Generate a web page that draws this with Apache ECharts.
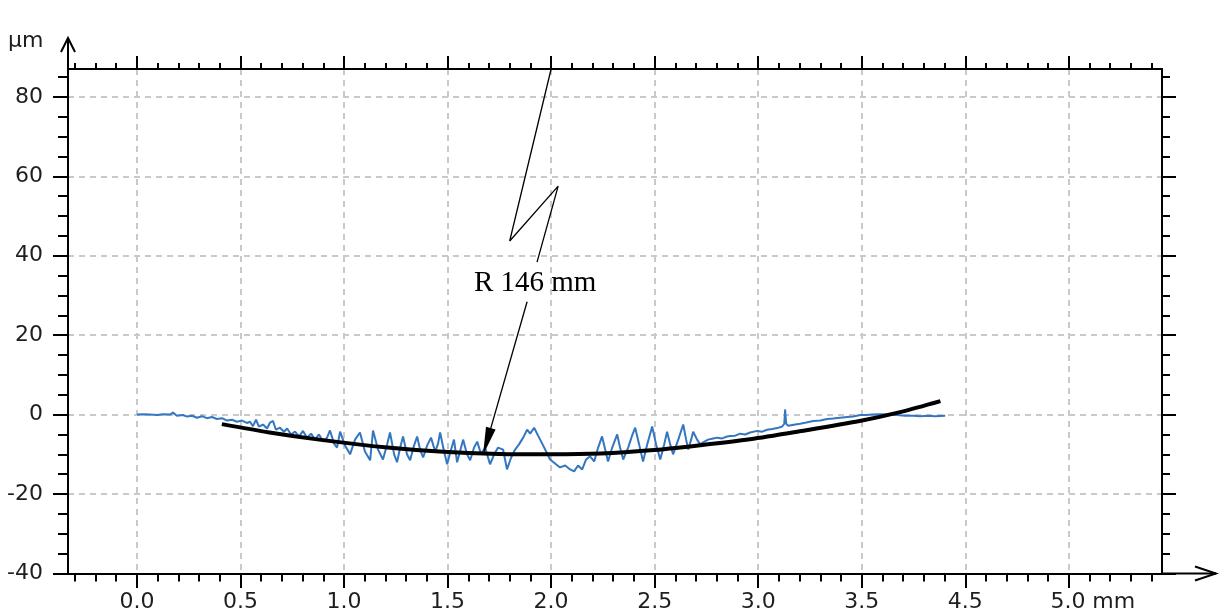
<!DOCTYPE html>
<html>
<head>
<meta charset="utf-8">
<script src="https://cdn.jsdelivr.net/npm/echarts@6/dist/echarts.min.js"></script>
<style>
html,body{margin:0;padding:0;background:#fff;}
#chart{width:1219px;height:615px;}
</style>
</head>
<body>
<div id="chart"></div>
<script>
// ---------- data (mm, µm) ----------
const profileData = [
  [0,0],[0.029,0.1],[0.063,0],[0.097,-0.1],[0.126,0.1],[0.159,0],[0.174,0.5],[0.193,-0.3],[0.222,-0.1],[0.242,-0.5],
  [0.266,-0.3],[0.29,-0.8],[0.314,-0.4],[0.338,-0.9],[0.362,-0.6],[0.386,-1.1],[0.411,-0.9],[0.435,-1.5],[0.459,-1.3],
  [0.483,-1.8],[0.507,-1.5],[0.531,-2.1],[0.546,-1.8],
  [0.56,-2.9],[0.575,-1.3],[0.589,-3.0],[0.609,-2.5],[0.628,-3.5],[0.643,-2.0],[0.657,-1.6],[0.671,-3.8],[0.691,-3.3],
  [0.71,-4.3],[0.725,-3.5],[0.744,-5.0],[0.763,-4.3],[0.783,-5.5],[0.802,-4.1],[0.821,-5.8],[0.841,-4.8],[0.86,-6.3],
  [0.879,-5.0],[0.899,-6.8],[0.918,-5.8],[0.932,-4.0],[0.952,-7.3],[0.966,-8.3],
  [0.981,-4.3],[1.005,-7.8],[1.029,-10.0],[1.053,-6.3],[1.077,-4.5],[1.101,-9.3],[1.126,-11.5],[1.14,-4.0],[1.164,-8.8],
  [1.188,-11.3],[1.208,-7.5],[1.222,-4.5],[1.242,-10.0],[1.256,-12.0],[1.271,-8.3],[1.285,-5.5],[1.304,-10.0],[1.319,-11.5],
  [1.338,-7.8],[1.353,-5.5],[1.367,-8.8],[1.382,-10.8],[1.401,-7.8],[1.42,-5.8],[1.44,-9.3],[1.454,-7.3],[1.464,-4.5],
  [1.483,-9.3],[1.498,-12.5],[1.517,-8.8],[1.531,-6.3],[1.546,-12.0],[1.56,-9.3],[1.575,-6.3],[1.594,-10.0],[1.609,-11.5],
  [1.628,-8.3],[1.643,-6.8],[1.662,-10.0],[1.681,-8.3],[1.705,-12.5],[1.725,-10.0],[1.744,-8.3],[1.768,-8.8],[1.787,-13.8],
  [1.807,-10.8],[1.826,-8.8],[1.845,-7.5],[1.865,-5.8],[1.884,-3.8],[1.899,-4.8],[1.918,-3.3],[1.937,-5.3],[1.957,-7.3],
  [1.976,-9.3],[1.995,-11.3],[2.019,-12.3],[2.043,-13.3],[2.068,-12.8],[2.092,-13.8],[2.111,-14.3],[2.13,-12.8],[2.15,-13.8],
  [2.169,-11.3],[2.188,-10.5],[2.208,-11.8],
  [2.227,-8.3],[2.246,-5.5],[2.261,-8.8],[2.275,-11.8],[2.295,-8.3],[2.319,-5.0],[2.333,-8.3],[2.348,-11.3],[2.372,-8.3],
  [2.391,-5.3],[2.406,-3.3],[2.425,-7.5],[2.444,-11.8],[2.464,-7.5],[2.488,-3.0],[2.507,-7.5],[2.527,-11.3],[2.546,-7.5],
  [2.56,-4.3],[2.575,-7.5],[2.589,-10.0],[2.614,-6.3],[2.638,-2.5],[2.652,-6.3],[2.662,-8.8],[2.676,-6.3],[2.686,-4.3],
  [2.705,-6.3],[2.72,-7.5],[2.734,-7.0],[2.758,-6.3],[2.783,-6.0],[2.802,-5.8],[2.826,-6.0],[2.85,-5.5],[2.865,-5.4],
  [2.889,-5.3],[2.913,-4.8],[2.937,-5.0],[2.961,-4.5],[2.995,-4.1],[3.019,-4.3],[3.043,-3.8],[3.068,-3.6],[3.092,-3.4],
  [3.116,-3.0],[3.126,-2.3],[3.13,1.3],[3.135,-2.3],[3.145,-2.8],[3.179,-2.5],[3.203,-2.3],[3.232,-2.0],[3.266,-1.6],
  [3.3,-1.5],[3.333,-1.1],[3.362,-1.0],[3.396,-0.8],[3.43,-0.6],[3.459,-0.5],[3.493,-0.1],[3.522,-0.1],[3.551,0],
  [3.589,0.1],[3.628,0],[3.671,-0.1],[3.71,-0.3],[3.749,-0.3],[3.783,-0.4],[3.821,-0.3],[3.855,-0.4],[3.903,-0.3]
];
const fitData = [
  [0.41,-2.4],[0.64,-4.5],[0.88,-6.3],[1.21,-8.3],[1.46,-9.3],[1.75,-9.9],[2.0,-10.0],[2.24,-9.8],
  [2.48,-9.0],[2.72,-7.7],[2.96,-6.2],[3.2,-4.2],[3.49,-1.6],[3.69,0.7],[3.88,3.4]
];
const xTickValues = [0, 0.5, 1, 1.5, 2, 2.5, 3, 3.5, 4, 4.5];
const xTickLabels = ['0.0','0.5','1.0','1.5','2.0','2.5','3.0','3.5','4.5','5.0 mm'];
const yTickValues = [-40, -20, 0, 20, 40, 60, 80];
const yTickLabels = ['-40','-20','0','20','40','60','80'];
const yUnitLabel = 'µm';
const annotationPath = [[2.0, 87], [1.80, 43.7], [2.034, 57.5], [1.932, 38.4]];
const arrowStart = [1.884, 28.4];
const arrowEnd = [1.69, -6.8];
const annotationTextPos = [1.923, 33.1];
const annotationText = 'R 146 mm';

// ---------- layout ----------
const W = 1219, H = 615;
const G = {left: 68, top: 69, right: 57, bottom: 41.5};
const X_MIN = -0.333, X_MAX = 4.95, Y_MIN = -40, Y_MAX = 87;
const FONT = '"DejaVu Sans", Verdana, sans-serif';
const FONT_SIZE = 22;
const LABEL_COLOR = '#1e1e1e';

const minorX = [];
for (let i = -3; i <= 49; i++) if (i % 5 !== 0) minorX.push(+(i / 10).toFixed(1));
const minorY = [];
for (let v = -35; v <= 85; v += 5) if (v % 20 !== 0) minorY.push(v);

function findLabel(vals, labels, v) {
  const i = vals.findIndex(t => Math.abs(t - v) < 1e-6);
  return i >= 0 ? labels[i] : '';
}

function axisBase(extra) {
  return Object.assign({
    type: 'value', gridIndex: 0,
    axisLine: {show: true, onZero: false, lineStyle: {color: '#000', width: 2}},
    splitLine: {show: false},
    axisLabel: {show: false}
  }, extra);
}
const gridLine = {show: true, lineStyle: {color: '#c9c9c9', width: 2, type: [6, 5]}};

function xAxis(pos, ticks, len, labels, split) {
  const ax = axisBase({position: pos, min: X_MIN, max: X_MAX,
    axisTick: {show: true, inside: false, length: len, customValues: ticks, lineStyle: {color: '#000', width: 2}}});
  if (split) ax.splitLine = gridLine;
  if (labels) ax.axisLabel = {
    show: true, customValues: ticks, margin: 18, fontFamily: FONT, fontSize: FONT_SIZE, color: LABEL_COLOR,
    formatter: v => {
      const s = findLabel(xTickValues, xTickLabels, v);
      const parts = s.split(' ');
      if (parts.length > 1) return '{pad|}' + parts[0] + '{u| ' + parts.slice(1).join(' ') + '}';
      return s;
    },
    rich: {pad: {width: 48}, u: {fontFamily: FONT, fontSize: FONT_SIZE, color: LABEL_COLOR}}
  };
  return ax;
}
function yAxis(pos, ticks, len, labels, split) {
  const ax = axisBase({position: pos, min: Y_MIN, max: Y_MAX,
    axisTick: {show: true, inside: false, length: len, customValues: ticks, lineStyle: {color: '#000', width: 2}}});
  if (split) ax.splitLine = gridLine;
  if (labels) ax.axisLabel = {
    show: true, customValues: ticks, margin: 25, fontFamily: FONT, fontSize: FONT_SIZE, color: LABEL_COLOR,
    formatter: v => findLabel(yTickValues, yTickLabels, v)
  };
  return ax;
}

const axL = G.left, axT = G.top, axR = W - G.right, axB = H - G.bottom;

const chart = echarts.init(document.getElementById('chart'), null, {renderer: 'canvas'});
chart.setOption({
  animation: false,
  backgroundColor: '#fff',
  grid: {left: G.left, top: G.top, right: G.right, bottom: G.bottom, containLabel: false, outerBoundsMode: 'none'},
  xAxis: [
    xAxis('bottom', xTickValues, 14.5, true, true),
    xAxis('bottom', minorX, 8, false, false),
    xAxis('top', xTickValues, 13, false, false),
    xAxis('top', minorX, 6, false, false)
  ],
  yAxis: [
    yAxis('left', yTickValues, 15, true, true),
    yAxis('left', minorY, 10, false, false),
    yAxis('right', yTickValues, 14, false, false),
    yAxis('right', minorY, 8, false, false)
  ],
  series: [
    {
      name: 'profile', type: 'line', xAxisIndex: 0, yAxisIndex: 0, data: profileData,
      showSymbol: false, symbol: 'none', z: 2,
      lineStyle: {color: '#3476c0', width: 2}
    },
    {
      name: 'fit', type: 'line', xAxisIndex: 0, yAxisIndex: 0, data: fitData,
      showSymbol: false, symbol: 'none', smooth: 0.3, z: 3,
      lineStyle: {color: '#000', width: 4}
    },
    {
      name: 'annotation', type: 'line', xAxisIndex: 0, yAxisIndex: 0, data: annotationPath,
      showSymbol: false, symbol: 'none', z: 4, clip: false,
      lineStyle: {color: '#000', width: 1.3},
      markPoint: {
        silent: true, symbol: 'circle', symbolSize: 1,
        itemStyle: {color: 'rgba(0,0,0,0)'},
        label: {show: true, position: 'inside', formatter: annotationText,
          fontFamily: '"Liberation Serif", "Times New Roman", serif', fontSize: 29, color: '#000'},
        data: [{coord: annotationTextPos}]
      },
      markLine: {
        silent: true, symbol: ['none', 'triangle'], symbolSize: [10, 28],
        label: {show: false},
        lineStyle: {color: '#000', width: 1.3, type: 'solid'},
        itemStyle: {color: '#000'},
        data: [[{coord: arrowStart}, {coord: arrowEnd}]]
      }
    }
  ],
  graphic: [
    {type: 'polyline', shape: {points: [[axL, axT], [axL, 38]]}, style: {stroke: '#000', lineWidth: 2, fill: 'none'}},
    {type: 'polyline', shape: {points: [[axL - 7, 52], [axL, 38], [axL + 7, 52]]}, style: {stroke: '#000', lineWidth: 2, fill: 'none'}},
    {type: 'polyline', shape: {points: [[axR, axB], [W - 3, axB]]}, style: {stroke: '#000', lineWidth: 2, fill: 'none'}},
    {type: 'polyline', shape: {points: [[W - 24, axB - 7], [W - 3, axB], [W - 24, axB + 7]]}, style: {stroke: '#000', lineWidth: 2, fill: 'none'}},
    {type: 'text', left: 8, top: 30, style: {text: yUnitLabel, font: '22px "DejaVu Sans", Verdana, sans-serif', fill: LABEL_COLOR}}
  ]
});
</script>
</body>
</html>
